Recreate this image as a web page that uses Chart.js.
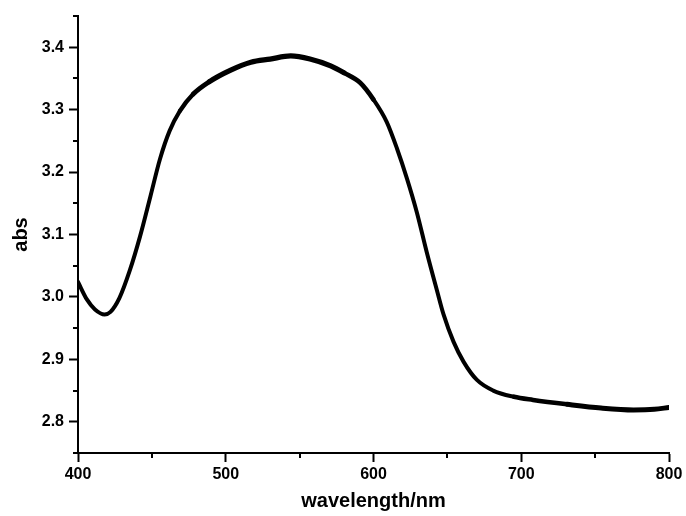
<!DOCTYPE html>
<html>
<head>
<meta charset="utf-8">
<script src="https://cdn.jsdelivr.net/npm/chart.js@4/dist/chart.umd.min.js"></script>
<style>
  html, body { margin: 0; padding: 0; background: #ffffff; }
  #wrap { width: 686px; height: 516px; }
</style>
</head>
<body>
<div id="wrap"><canvas id="c" width="686" height="516"></canvas></div>
<script>
// Wavelength (nm) and absorbance
const wavelengths = [400, 406, 411.5, 418, 422, 428, 435, 442, 449, 455.5, 462, 469, 478, 489, 503, 517, 530, 544, 557, 571, 580, 591, 600, 609, 616, 622.6, 629.4, 636, 643, 647.4, 654.2, 661, 670, 681, 695, 708, 731, 754, 776, 790, 800];
const absorbance  = [3.024, 2.996, 2.980, 2.972, 2.976, 2.998, 3.042, 3.097, 3.161, 3.221, 3.266, 3.298, 3.325, 3.345, 3.363, 3.376, 3.381, 3.386, 3.381, 3.370, 3.359, 3.343, 3.316, 3.280, 3.237, 3.190, 3.135, 3.072, 3.010, 2.972, 2.928, 2.896, 2.867, 2.850, 2.840, 2.835, 2.828, 2.822, 2.819, 2.820, 2.823];

const xTicks = [400, 500, 600, 700, 800];
const yTicks = [2.8, 2.9, 3.0, 3.1, 3.2, 3.3, 3.4];
const xMinorTicks = [450, 550, 650, 750];
const yMinorTicks = [2.75, 2.85, 2.95, 3.05, 3.15, 3.25, 3.35, 3.45];

const FONT = '"Liberation Sans", Arial, Helvetica, sans-serif';

const minorTickPlugin = {
  id: 'minorTicks',
  afterDraw(chart) {
    const ctx = chart.ctx;
    const xs = chart.scales.x, ys = chart.scales.y;
    const area = chart.chartArea;
    ctx.save();
    ctx.strokeStyle = '#000';
    ctx.lineWidth = 2;
    ctx.beginPath();
    xMinorTicks.forEach(v => {
      const px = Math.round(xs.getPixelForValue(v));
      ctx.moveTo(px, area.bottom);
      ctx.lineTo(px, area.bottom + 5);
    });
    yMinorTicks.forEach(v => {
      const py = Math.round(ys.getPixelForValue(v));
      ctx.moveTo(area.left - 5, py);
      ctx.lineTo(area.left, py);
    });
    ctx.stroke();
    ctx.restore();
  }
};

// slightly heavier stroke where the measured trace is noisy
function segWidth(c) {
  const x = c.p0.parsed.x;
  if (x < 465) return 4;
  if (x < 478) return 4.4;
  if (x < 489) return 4.8;
  if (x < 580) return 5.2;
  if (x < 600) return 4.6;
  if (x < 695) return 4;
  if (x < 731) return 4.5;
  return 5;
}

new Chart(document.getElementById('c'), {
  type: 'line',
  data: {
    datasets: [{
      data: wavelengths.map((w, i) => ({ x: w, y: absorbance[i] })),
      borderColor: '#000',
      borderWidth: 4,
      borderJoinStyle: 'round',
      borderCapStyle: 'round',
      segment: { borderWidth: segWidth },
      pointRadius: 0,
      cubicInterpolationMode: 'monotone',
      fill: false
    }]
  },
  options: {
    responsive: false,
    animation: false,
    layout: { padding: { top: 16, right: 17, left: 0, bottom: 0 } },
    plugins: { legend: { display: false }, tooltip: { enabled: false } },
    scales: {
      x: {
        type: 'linear',
        min: 400, max: 800,
        afterFit: s => { s.height = 63; },
        afterBuildTicks: s => { s.ticks = xTicks.map(v => ({ value: v })); },
        grid: { drawOnChartArea: false, drawTicks: true, tickLength: 9, tickWidth: 2, tickColor: '#000' },
        border: { display: true, color: '#000', width: 2 },
        ticks: {
          color: '#000', padding: 3, maxRotation: 0,
          font: { family: FONT, size: 16, weight: 'bold' },
          callback: v => String(v)
        },
        title: {
          display: true, text: 'wavelength/nm', color: '#000',
          font: { family: FONT, size: 20, weight: 'bold' },
          padding: { top: 0, bottom: 3 }
        }
      },
      y: {
        type: 'linear',
        min: 2.75, max: 3.45,
        afterFit: s => { s.width = 78; },
        afterBuildTicks: s => { s.ticks = yTicks.map(v => ({ value: v })); },
        grid: { drawOnChartArea: false, drawTicks: true, tickLength: 9, tickWidth: 2, tickColor: '#000' },
        border: { display: true, color: '#000', width: 2 },
        ticks: {
          color: '#000', padding: 5,
          font: { family: FONT, size: 16, weight: 'bold' },
          callback: v => Number(v).toFixed(1)
        },
        title: {
          display: true, text: 'abs', color: '#000',
          font: { family: FONT, size: 20, weight: 'bold' },
          padding: { top: 9, bottom: 0 }
        }
      }
    }
  },
  plugins: [minorTickPlugin]
});
</script>
</body>
</html>
